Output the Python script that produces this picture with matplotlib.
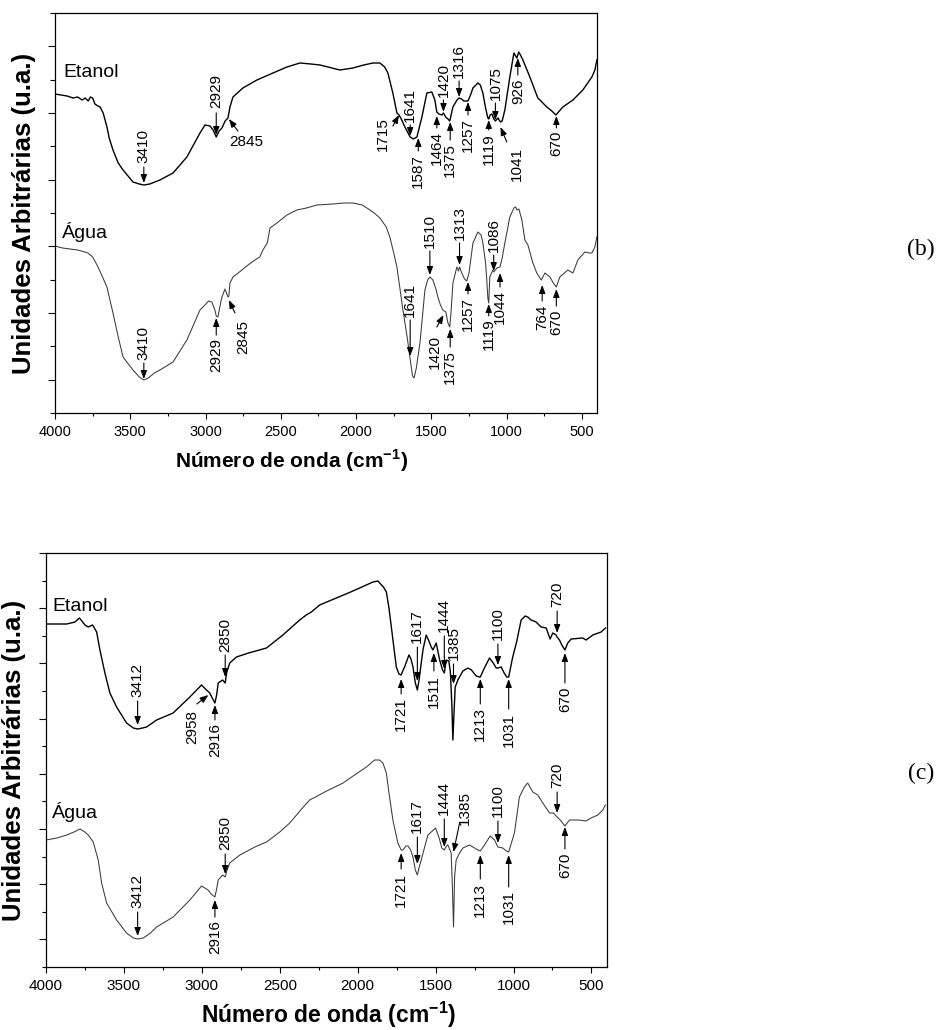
import numpy as np
import matplotlib
matplotlib.use("Agg")
import matplotlib.pyplot as plt

plt.rcParams["font.family"] = ["Liberation Sans", "DejaVu Sans"]
plt.rcParams["mathtext.fontset"] = "custom"
plt.rcParams["mathtext.rm"] = "Liberation Sans"
plt.rcParams["mathtext.bf"] = "Liberation Sans:bold"

# ---- spectra (b) : wavenumber (cm-1) / arbitrary intensity ----
b_etanol_wn = [4000, 3960, 3920, 3880, 3850, 3820, 3800, 3780, 3765, 3750, 3735, 3715,
               3700, 3680, 3655, 3640, 3615, 3580, 3548, 3482, 3440, 3410, 3370, 3303,
               3216, 3124, 3037, 3004, 2970, 2950, 2929, 2910, 2891, 2870, 2851, 2838,
               2818, 2752, 2659, 2552, 2460, 2373, 2300, 2240, 2108, 2021, 1950, 1888,
               1842, 1810, 1789, 1756, 1729, 1715, 1700, 1676, 1641, 1620, 1596, 1563,
               1530, 1497, 1477, 1464, 1450, 1430, 1420, 1405, 1390, 1378, 1357, 1330,
               1316, 1300, 1285, 1257, 1240, 1224, 1191, 1175, 1158, 1140, 1125, 1119,
               1110, 1098, 1085, 1075, 1058, 1041, 1030, 1012, 979, 952, 940, 932, 920,
               912, 892, 846, 793, 733, 700, 673, 650, 627, 560, 494, 434, 414, 401]
b_etanol_y = [319, 318, 317, 315, 316, 313, 315, 312, 316, 315, 309, 307,
              306, 300, 286, 275, 263, 250, 243, 231, 229, 228, 229, 233,
              240, 256, 280, 288, 287, 283, 276, 282, 285, 292, 295, 306,
              316, 325, 333, 340, 346, 350, 349, 348, 343, 345, 348, 350,
              350, 346, 340, 320, 300, 298, 294, 286, 276, 274, 276, 296,
              320, 321, 313, 301, 299, 298, 300, 296, 294, 292, 306, 313,
              315, 314, 312, 312, 318, 325, 330, 328, 320, 305, 295, 294,
              298, 299, 294, 292, 295, 291, 292, 303, 336, 360, 357, 355, 361,
              359, 353, 336, 315, 306, 302, 298, 302, 306, 313, 323, 336, 343, 353]

b_agua_wn = [4000, 3950, 3900, 3850, 3801, 3781, 3750, 3721, 3690, 3655, 3615, 3580,
             3548, 3482, 3440, 3410, 3380, 3340, 3303, 3216, 3124, 3037, 3004, 2980,
             2958, 2938, 2929, 2918, 2900, 2891, 2871, 2851, 2845, 2838, 2818, 2758,
             2718, 2672, 2640, 2619, 2590, 2572, 2526, 2460, 2393, 2330, 2260, 2154,
             2080, 2021, 1960, 1928, 1880, 1842, 1800, 1776, 1750, 1729, 1689, 1660,
             1643, 1625, 1615, 1600, 1576, 1543, 1525, 1510, 1490, 1470, 1457, 1440,
             1424, 1404, 1390, 1378, 1370, 1357, 1331, 1320, 1313, 1298, 1280, 1265,
             1250, 1224, 1191, 1170, 1158, 1140, 1132, 1125, 1119, 1112, 1092, 1086,
             1065, 1044, 1030, 1012, 979, 952, 940, 932, 919, 899, 879, 859, 826, 800,
             770, 746, 713, 690, 670, 647, 594, 560, 527, 481, 450, 434, 414, 401]
b_agua_y = [167, 165, 164, 163, 161, 160, 156, 148, 138, 126, 100, 76,
            56, 43, 36, 33, 35, 40, 43, 51, 73, 103, 108, 112,
            111, 103, 97, 96, 110, 116, 124, 116, 117, 130, 136, 143,
            148, 153, 156, 163, 170, 185, 190, 198, 203, 205, 208, 209,
            210, 210, 208, 205, 200, 195, 186, 176, 160, 146, 103, 75,
            56, 37, 35, 45, 70, 123, 133, 136, 133, 124, 116, 108,
            103, 101, 90, 86, 100, 130, 146, 142, 146, 140, 134, 132,
            140, 170, 181, 178, 170, 150, 133, 115, 110, 136, 143, 141,
            145, 146, 155, 170, 196, 205, 206, 203, 204, 193, 173, 168, 150, 140,
            133, 140, 136, 130, 126, 136, 143, 140, 153, 161, 160, 160, 166, 176]

# ---- spectra (c) ----
c_etanol_wn = [4000, 3930, 3867, 3814, 3786, 3770, 3750, 3729, 3701, 3675, 3654, 3622,
               3590, 3547, 3483, 3440, 3412, 3380, 3355, 3290, 3184, 3077, 3002, 2970,
               2949, 2930, 2916, 2905, 2895, 2867, 2850, 2840, 2821, 2778, 2700, 2585,
               2480, 2372, 2330, 2297, 2244, 2137, 2060, 1987, 1902, 1870, 1859, 1835,
               1816, 1800, 1784, 1752, 1735, 1721, 1708, 1699, 1671, 1658, 1645, 1630,
               1617, 1606, 1598, 1580, 1560, 1540, 1528, 1517, 1496, 1474, 1455, 1444,
               1432, 1415, 1405, 1395, 1389, 1383, 1374, 1357, 1325, 1293, 1270, 1239,
               1218, 1213, 1190, 1154, 1130, 1111, 1100, 1079, 1060, 1043, 1031, 1005,
               980, 951, 925, 909, 887, 855, 823, 790, 765, 748, 727, 720, 705, 690,
               670, 652, 630, 556, 534, 491, 438, 410]
c_etanol_y = [343, 343, 343, 345, 349, 346, 342, 340, 342, 335, 317, 294,
              274, 260, 244, 239, 238, 239, 240, 247, 254, 270, 282, 277,
              274, 268, 264, 272, 284, 287, 284, 295, 304, 310, 314, 319,
              332, 347, 352, 355, 362, 369, 374, 379, 385, 386, 384, 380,
              375, 360, 340, 300, 293, 292, 297, 300, 312, 308, 300, 284,
              277, 287, 297, 318, 332, 325, 320, 317, 324, 307, 297, 294,
              307, 306, 295, 260, 227, 250, 280, 287, 296, 299, 297, 291,
              290, 290, 298, 309, 304, 299, 299, 300, 294, 290, 290, 310,
              325, 347, 351, 350, 347, 345, 340, 339, 328, 334, 332, 330, 327, 322,
              317, 324, 328, 329, 327, 332, 335, 339]

c_agua_wn = [4000, 3930, 3867, 3820, 3782, 3750, 3729, 3697, 3665, 3643, 3611, 3547,
             3483, 3440, 3412, 3376, 3330, 3290, 3184, 3077, 3002, 2960, 2940, 2916,
             2905, 2895, 2867, 2850, 2840, 2821, 2756, 2660, 2585, 2500, 2436, 2360,
             2308, 2270, 2212, 2094, 2020, 1944, 1891, 1860, 1838, 1816, 1800, 1774,
             1742, 1721, 1710, 1690, 1677, 1660, 1645, 1630, 1617, 1605, 1592, 1570,
             1549, 1528, 1500, 1479, 1460, 1444, 1430, 1421, 1400, 1392, 1385, 1378,
             1368, 1346, 1325, 1282, 1250, 1240, 1213, 1186, 1150, 1122, 1100, 1069,
             1045, 1031, 994, 962, 930, 909, 876, 844, 812, 769, 744, 720, 700, 670,
             641, 587, 534, 502, 459, 427, 410]
c_agua_y = [127, 129, 132, 135, 138, 135, 132, 125, 107, 84, 64, 47,
            34, 29, 28, 29, 34, 40, 50, 67, 81, 77, 73, 70,
            78, 87, 92, 90, 96, 104, 112, 120, 125, 135, 144, 158,
            167, 170, 175, 184, 192, 200, 207, 207, 204, 194, 175, 147,
            124, 117, 117, 121, 121, 117, 110, 97, 92, 100, 107, 120,
            132, 135, 139, 130, 119, 117, 121, 122, 114, 80, 40, 90,
            107, 114, 119, 122, 119, 118, 116, 122, 131, 127, 120, 119,
            116, 115, 134, 170, 180, 184, 175, 172, 164, 154, 154, 150, 147, 141,
            147, 147, 146, 149, 152, 157, 162]

# ---- band assignments: (wavenumber, tip y, arrow start y, text y, va, start dx, text dx, rotation) ----
b_etanol_marks = [
    (3410, 230, 246, 250, "bottom", 0, 0, 90),
    (2929, 278, 300, 305, "bottom", 0, 0, 90),
    (2845, 294, 282, 278, "top", -60, -5, 0),
    (1715, 298, 287, 296, "top", 41, 107, 90),
    (1641, 277, 288, 291, "bottom", 0, 0, 90),
    (1587, 275, 262, 259, "top", 0, 0, 90),
    (1464, 297, 285, 282, "top", 0, 0, 90),
    (1420, 301, 313, 316, "bottom", 0, 0, 90),
    (1375, 291, 273, 270, "top", 0, 0, 90),
    (1316, 316, 332, 335, "bottom", 0, 0, 90),
    (1257, 311, 298, 295, "top", 0, 0, 90),
    (1119, 293, 283, 280, "top", 0, 0, 90),
    (1075, 293, 310, 313, "bottom", 0, 0, 90),
    (1041, 286, 271, 266, "top", -42, -109, 90),
    (926, 355, 338, 335, "top", 0, 0, 90),
    (670, 297, 285, 282, "top", 0, 0, 90),
]
b_agua_marks = [
    (3410, 34, 50, 53, "bottom", 0, 0, 90),
    (2929, 95, 78, 75, "top", 0, 0, 90),
    (2845, 113, 100, 93, "top", -40, -93, 90),
    (1641, 57, 93, 96, "bottom", 0, 0, 90),
    (1510, 138, 162, 165, "bottom", 0, 0, 90),
    (1420, 98, 86, 78, "top", 44, 57, 90),
    (1375, 84, 66, 63, "top", 0, 0, 90),
    (1313, 148, 170, 173, "bottom", 0, 0, 90),
    (1257, 131, 119, 116, "top", 0, 0, 90),
    (1119, 109, 97, 95, "top", 0, 0, 90),
    (1086, 142, 158, 161, "bottom", 0, 0, 90),
    (1044, 140, 126, 123, "top", 0, 0, 90),
    (764, 128, 112, 108, "top", 0, 0, 90),
    (670, 124, 107, 103, "top", 0, 0, 90),
]
c_etanol_marks = [
    (3412, 242, 266, 270, "bottom", 0, 0, 90),
    (2958, 272, 263, 257, "top", 74, 106, 90),
    (2916, 262, 247, 244, "top", 0, 0, 90),
    (2850, 290, 312, 315, "bottom", 0, 0, 90),
    (1721, 288, 273, 270, "top", 0, 0, 90),
    (1617, 286, 320, 324, "bottom", 0, 0, 90),
    (1511, 314, 296, 292, "top", 0, 0, 90),
    (1444, 298, 331, 335, "bottom", 0, 0, 90),
    (1385, 283, 303, 307, "bottom", 0, 0, 90),
    (1213, 288, 263, 260, "top", 0, 0, 90),
    (1100, 302, 323, 327, "bottom", 0, 0, 90),
    (1031, 288, 258, 254, "top", 0, 0, 90),
    (720, 334, 356, 360, "bottom", 0, 0, 90),
    (670, 314, 284, 280, "top", 0, 0, 90),
]
c_agua_marks = [
    (3412, 31, 55, 59, "bottom", 0, 0, 90),
    (2916, 67, 50, 47, "top", 0, 0, 90),
    (2850, 93, 113, 117, "bottom", 0, 0, 90),
    (1721, 114, 98, 94, "top", 0, 0, 90),
    (1617, 103, 130, 134, "bottom", 0, 0, 90),
    (1444, 120, 148, 152, "bottom", 0, 0, 90),
    (1385, 115, 144, 142, "bottom", -39, -71, 90),
    (1213, 112, 88, 84, "top", 0, 0, 90),
    (1100, 124, 146, 150, "bottom", 0, 0, 90),
    (1031, 112, 80, 77, "top", 0, 0, 90),
    (720, 154, 175, 179, "bottom", 0, 0, 90),
    (670, 140, 118, 114, "top", 0, 0, 90),
]

x_ticks = [4000, 3500, 3000, 2500, 2000, 1500, 1000, 500]
x_label = "Número de onda (cm$^{\\mathbf{-1}}$)"
y_label = "Unidades Arbitrárias (u.a.)"

ARROW = dict(arrowstyle="-|>,head_length=0.45,head_width=0.17", color="black",
             lw=0.8, shrinkA=0, shrinkB=0, mutation_scale=11)


def add_marks(ax, marks):
    for wn, tip, start, ty, va, sdx, tdx, rot in marks:
        ax.annotate("", xy=(wn, tip), xytext=(wn + sdx, start),
                    arrowprops=ARROW)
        ha = "center" if rot == 90 else "left"
        ax.text(wn + tdx, ty, str(wn), rotation=rot, ha=ha, va=va,
                fontsize=11)


def setup_axes(ax, ytop, n_steps, tick_fs, ymaj, ymin):
    ax.set_xlim(4000, 400)
    ax.set_ylim(0, ytop)
    ax.set_xticks(x_ticks)
    ax.set_xticks(np.arange(750, 4000, 500), minor=True)
    ax.set_xticklabels([str(t) for t in x_ticks], fontsize=tick_fs)
    yt = np.linspace(0, ytop, n_steps + 1)
    ax.set_yticks(yt[1::2])
    ax.set_yticks(yt[0::2], minor=True)
    ax.set_yticklabels([])
    ax.tick_params(axis="x", which="major", direction="out", length=4.5, width=0.8, pad=4)
    ax.tick_params(axis="x", which="minor", direction="out", length=2.4, width=0.8)
    ax.tick_params(axis="y", which="major", direction="out", length=ymaj, width=0.8)
    ax.tick_params(axis="y", which="minor", direction="out", length=ymin, width=0.8)
    for s in ax.spines.values():
        s.set_linewidth(0.9)


fig = plt.figure(figsize=(9.46, 10.30), dpi=100)

# panel (b)
ax_b = fig.add_axes([55 / 946, 1 - 413 / 1030, 542 / 946, 400 / 1030])
ax_b.plot(b_etanol_wn, b_etanol_y, color="black", lw=1.0)
ax_b.plot(b_agua_wn, b_agua_y, color="#3a3a3a", lw=0.75)
setup_axes(ax_b, 400, 12, 10.5, 5.0, 3.4)
add_marks(ax_b, b_etanol_marks)
add_marks(ax_b, b_agua_marks)
ax_b.text(3947, 336, "Etanol", fontsize=14, va="baseline")
ax_b.text(3955, 175, "Água", fontsize=14, va="baseline")

# panel (c)
ax_c = fig.add_axes([46 / 946, 1 - 967 / 1030, 561 / 946, 414 / 1030])
ax_c.plot(c_etanol_wn, c_etanol_y, color="black", lw=1.0)
ax_c.plot(c_agua_wn, c_agua_y, color="#3a3a3a", lw=0.75)
setup_axes(ax_c, 414, 15, 11, 5.0, 3.0)
add_marks(ax_c, c_etanol_marks)
add_marks(ax_c, c_agua_marks)
ax_c.text(3960, 356, "Etanol", fontsize=14, va="baseline")
ax_c.text(3960, 149, "Água", fontsize=14, va="baseline")

# axis titles and panel tags
fig.text(292 / 946, 1 - 461 / 1030, x_label, ha="center", va="center",
         fontsize=15, fontweight="bold")
fig.text(329 / 946, 1 - 1015 / 1030, x_label, ha="center", va="center",
         fontsize=16.5, fontweight="bold")
fig.text(24 / 946, 1 - 213 / 1030, y_label, rotation=90, ha="center", va="center",
         fontsize=18.5, fontweight="bold")
fig.text(14.5 / 946, 1 - 760 / 1030, y_label, rotation=90, ha="center", va="center",
         fontsize=18.5, fontweight="bold")
fig.text(921 / 946, 1 - 249 / 1030, "(b)", ha="center", va="center",
         fontsize=17, family="Liberation Serif")
fig.text(921 / 946, 1 - 773 / 1030, "(c)", ha="center", va="center",
         fontsize=17, family="Liberation Serif")

fig.savefig("out.png", dpi=100)
